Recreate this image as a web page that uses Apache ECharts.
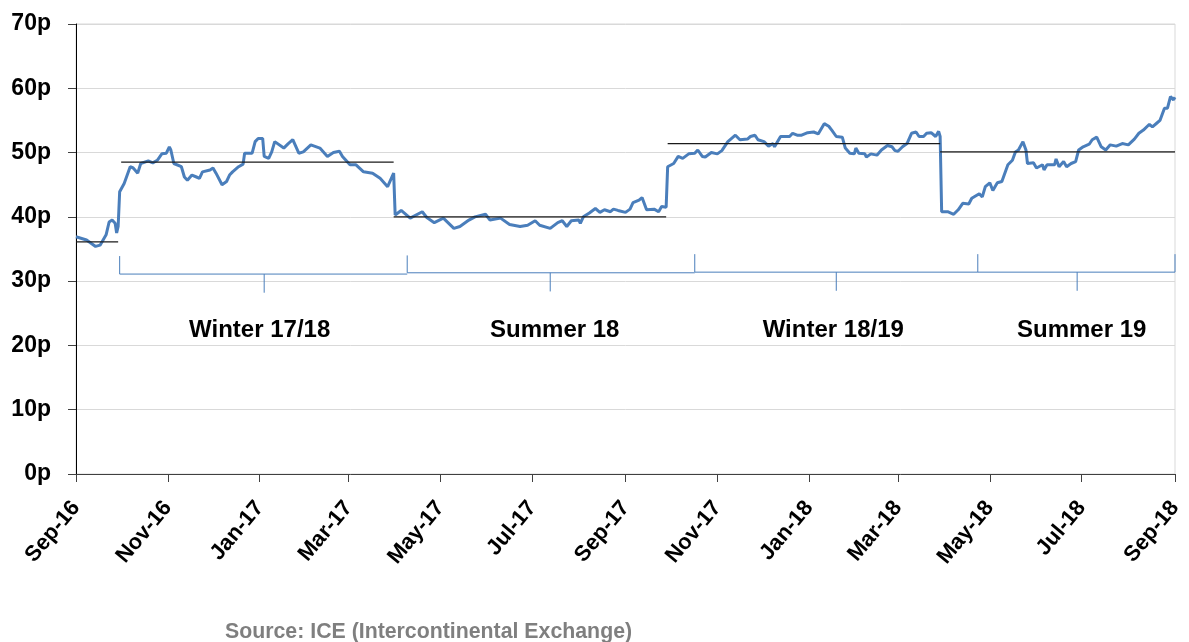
<!DOCTYPE html>
<html>
<head>
<meta charset="utf-8">
<script src="https://cdn.jsdelivr.net/npm/echarts@6/dist/echarts.min.js"></script>
<style>
  html, body { margin: 0; padding: 0; background: #fff; }
  #chart { width: 1189px; height: 642px; }
</style>
</head>
<body>
<div id="chart"></div>
<script>
// 远期季度合约价格（p/therm）
const priceDates = [
  '2016-09-01', '2016-09-08', '2016-09-14', '2016-09-17', '2016-09-21', '2016-09-23', '2016-09-25', '2016-09-27',
  '2016-09-28', '2016-09-29', '2016-09-30', '2016-10-03', '2016-10-07', '2016-10-09', '2016-10-12', '2016-10-14',
  '2016-10-19', '2016-10-22', '2016-10-25', '2016-10-28', '2016-10-31', '2016-11-02', '2016-11-03', '2016-11-05',
  '2016-11-10', '2016-11-12', '2016-11-14', '2016-11-17', '2016-11-20', '2016-11-22', '2016-11-24', '2016-11-29',
  '2016-12-01', '2016-12-03', '2016-12-07', '2016-12-10', '2016-12-12', '2016-12-14', '2016-12-18', '2016-12-21',
  '2016-12-22', '2016-12-27', '2016-12-29', '2016-12-31', '2017-01-03', '2017-01-04', '2017-01-07', '2017-01-09',
  '2017-01-11', '2017-01-17', '2017-01-20', '2017-01-23', '2017-01-27', '2017-01-30', '2017-02-04', '2017-02-10',
  '2017-02-15', '2017-02-19', '2017-02-23', '2017-02-25', '2017-03-02', '2017-03-06', '2017-03-11', '2017-03-17',
  '2017-03-22', '2017-03-27', '2017-03-31', '2017-04-01', '2017-04-05', '2017-04-11', '2017-04-19', '2017-04-22',
  '2017-04-27', '2017-05-03', '2017-05-10', '2017-05-14', '2017-05-20', '2017-05-24', '2017-05-31', '2017-06-03',
  '2017-06-10', '2017-06-16', '2017-06-23', '2017-06-28', '2017-07-03', '2017-07-06', '2017-07-13', '2017-07-18',
  '2017-07-21', '2017-07-24', '2017-07-27', '2017-08-01', '2017-08-02', '2017-08-04', '2017-08-08', '2017-08-12',
  '2017-08-15', '2017-08-18', '2017-08-22', '2017-08-24', '2017-08-27', '2017-09-01', '2017-09-04', '2017-09-06',
  '2017-09-10', '2017-09-12', '2017-09-15', '2017-09-20', '2017-09-23', '2017-09-25', '2017-09-28', '2017-09-29',
  '2017-10-03', '2017-10-06', '2017-10-09', '2017-10-13', '2017-10-17', '2017-10-19', '2017-10-22', '2017-10-24',
  '2017-10-28', '2017-11-01', '2017-11-04', '2017-11-08', '2017-11-13', '2017-11-16', '2017-11-21', '2017-11-23',
  '2017-11-26', '2017-11-28', '2017-12-02', '2017-12-05', '2017-12-08', '2017-12-09', '2017-12-13', '2017-12-16',
  '2017-12-19', '2017-12-21', '2017-12-24', '2017-12-27', '2017-12-31', '2018-01-04', '2018-01-07', '2018-01-08',
  '2018-01-11', '2018-01-14', '2018-01-16', '2018-01-19', '2018-01-23', '2018-01-25', '2018-01-28', '2018-01-31',
  '2018-02-01', '2018-02-03', '2018-02-07', '2018-02-08', '2018-02-11', '2018-02-15', '2018-02-18', '2018-02-22',
  '2018-02-25', '2018-02-27', '2018-03-01', '2018-03-04', '2018-03-07', '2018-03-10', '2018-03-13', '2018-03-15',
  '2018-03-18', '2018-03-20', '2018-03-23', '2018-03-26', '2018-03-28', '2018-03-29', '2018-03-30', '2018-04-03',
  '2018-04-07', '2018-04-10', '2018-04-13', '2018-04-17', '2018-04-19', '2018-04-24', '2018-04-26', '2018-04-28',
  '2018-05-01', '2018-05-03', '2018-05-06', '2018-05-09', '2018-05-13', '2018-05-16', '2018-05-18', '2018-05-20',
  '2018-05-23', '2018-05-25', '2018-05-26', '2018-05-30', '2018-06-01', '2018-06-05', '2018-06-06', '2018-06-08',
  '2018-06-13', '2018-06-14', '2018-06-16', '2018-06-19', '2018-06-21', '2018-06-24', '2018-06-27', '2018-06-29',
  '2018-07-02', '2018-07-06', '2018-07-08', '2018-07-11', '2018-07-14', '2018-07-17', '2018-07-20', '2018-07-24',
  '2018-07-28', '2018-08-01', '2018-08-05', '2018-08-08', '2018-08-11', '2018-08-15', '2018-08-17', '2018-08-20',
  '2018-08-22', '2018-08-25', '2018-08-27', '2018-08-29', '2018-08-31', '2018-09-01'
]
const prices = [
  36.9, 36.4, 35.4, 35.6, 37.2, 39.2, 39.5, 39.0,
  37.5, 38.5, 43.9, 45.2, 47.8, 47.6, 46.8, 48.3,
  48.7, 48.4, 48.8, 49.8, 49.9, 50.9, 50.4, 48.3,
  47.8, 46.2, 45.7, 46.5, 46.2, 46.0, 47.0, 47.3,
  47.6, 46.8, 45.0, 45.5, 46.5, 47.0, 47.8, 48.2,
  49.9, 49.9, 51.7, 52.2, 52.2, 49.4, 49.1, 50.1,
  51.7, 50.7, 51.4, 52.0, 49.9, 50.1, 51.2, 50.7,
  49.4, 50.0, 50.2, 49.4, 48.1, 48.1, 47.0, 46.8,
  46.0, 44.7, 46.8, 40.3, 41.0, 39.8, 40.8, 39.9,
  39.1, 39.8, 38.2, 38.5, 39.5, 40.0, 40.4, 39.5,
  39.8, 38.8, 38.5, 38.7, 39.4, 38.7, 38.2, 39.1,
  39.4, 38.5, 39.4, 39.5, 39.0, 40.0, 40.6, 41.3,
  40.7, 41.1, 40.8, 41.2, 41.0, 40.7, 41.2, 42.2,
  42.6, 43.0, 41.1, 41.2, 40.8, 41.6, 41.5, 47.8,
  48.3, 49.4, 49.1, 49.8, 49.9, 50.4, 49.4, 49.3,
  50.0, 49.8, 50.3, 51.7, 52.7, 52.0, 52.1, 52.5,
  52.7, 52.0, 51.7, 51.0, 51.4, 50.9, 52.5, 52.5,
  52.5, 53.0, 52.7, 52.7, 53.1, 53.2, 52.9, 53.0,
  54.5, 54.1, 53.5, 52.5, 52.4, 50.7, 49.9, 49.8,
  50.7, 49.9, 49.8, 49.3, 49.8, 49.6, 50.4, 51.1,
  50.9, 50.3, 50.2, 50.9, 51.4, 53.0, 53.2, 52.5,
  52.5, 53.0, 53.1, 52.5, 53.3, 52.5, 40.8, 40.8,
  40.4, 41.1, 42.1, 42.0, 42.9, 43.6, 43.1, 44.7,
  45.3, 44.1, 45.3, 45.5, 48.1, 48.8, 50.1, 50.4,
  51.7, 50.4, 48.3, 48.4, 47.6, 48.1, 47.3, 48.1,
  48.1, 49.0, 47.8, 48.6, 47.8, 48.3, 48.6, 50.4,
  50.9, 51.3, 52.0, 52.4, 50.9, 50.4, 51.2, 51.0,
  51.4, 51.2, 52.1, 53.0, 53.5, 54.4, 54.0, 54.6,
  55.0, 56.9, 56.9, 58.7, 58.2, 58.6
]

// 季度均价（黑色横线）
const avgStart = ['2016-09-01', '2016-10-01', '2017-03-31', '2017-09-29', '2018-03-29']
const avgEnd = ['2016-09-29', '2017-03-31', '2017-09-28', '2018-03-29', '2018-09-01']
const avgValue = [36.1, 48.5, 40.0, 51.4, 50.1]

// 季度括号
const seasonNames = ['Winter 17/18', 'Summer 18', 'Winter 18/19', 'Summer 19']
const bracketEdges = ['2016-09-30', '2017-04-09', '2017-10-17', '2018-04-23', '2018-09-01']
const bracketMids = ['2017-01-04', '2017-07-13', '2018-01-19', '2018-06-28']
const bracketTop = [33.9, 34.0, 34.2, 34.2]
const bracketBase = [31.1, 31.3, 31.4, 31.4]
const bracketTickBottom = [28.2, 28.4, 28.5, 28.5]
const seasonLabelDates = ['2017-01-01', '2017-07-16', '2018-01-17', '2018-07-01']
const seasonLabelValue = 22.4

// 坐标轴刻度
const tickDates = [
  '2016-09-01', '2016-11-01', '2017-01-01', '2017-03-01', '2017-05-01', '2017-07-01', '2017-09-01',
  '2017-11-01', '2018-01-01', '2018-03-01', '2018-05-01', '2018-07-01', '2018-09-01'
]
const tickLabels = [
  'Sep-16', 'Nov-16', 'Jan-17', 'Mar-17', 'May-17', 'Jul-17', 'Sep-17',
  'Nov-17', 'Jan-18', 'Mar-18', 'May-18', 'Jul-18', 'Sep-18'
]

const chart = echarts.init(document.getElementById('chart'))
const FONT = 'Liberation Sans, Arial, sans-serif'
const toTime = (d) => echarts.number.parseDate(d).getTime()
const tickTimes = tickDates.map(toTime)
const blue = '#4a7ebb'

const series = []
series.push({
  name: 'Price',
  type: 'line',
  data: priceDates.map((d, i) => [toTime(d), prices[i]]),
  showSymbol: false,
  symbol: 'none',
  lineStyle: { color: blue, width: 3 },
  z: 5
})
avgValue.forEach((v, i) => {
  series.push({
    type: 'line',
    data: [[toTime(avgStart[i]), v], [toTime(avgEnd[i]), v]],
    symbol: 'none',
    lineStyle: { color: '#1a1a1a', width: 1.2 },
    z: 6,
    silent: true
  })
})
seasonNames.forEach((name, i) => {
  const a = toTime(bracketEdges[i])
  const b = toTime(bracketEdges[i + 1])
  const m = toTime(bracketMids[i])
  // 左竖线 + 底线
  series.push({
    type: 'line',
    data: [[a, bracketTop[i]], [a, bracketBase[i]], [b, bracketBase[i]]],
    symbol: 'none',
    lineStyle: { color: blue, width: 1 },
    clip: false,
    silent: true
  })
  // 中间刻度
  series.push({
    type: 'line',
    data: [[m, bracketBase[i]], [m, bracketTickBottom[i]]],
    symbol: 'none',
    lineStyle: { color: blue, width: 1 },
    silent: true
  })
})
// 最后一个括号的右竖线
const last = seasonNames.length - 1
series.push({
  type: 'line',
  data: [[toTime(bracketEdges[last + 1]), bracketBase[last]], [toTime(bracketEdges[last + 1]), bracketTop[last]]],
  symbol: 'none',
  lineStyle: { color: blue, width: 1 },
  clip: false,
  silent: true
})
series.push({
  type: 'scatter',
  data: seasonNames.map((n, i) => ({ name: n, value: [toTime(seasonLabelDates[i]), seasonLabelValue] })),
  symbolSize: 0,
  itemStyle: { color: '#000', opacity: 1 },
  label: {
    show: true,
    position: 'inside',
    formatter: '{b}',
    color: '#000',
    textBorderWidth: 0,
    fontFamily: FONT,
    fontWeight: 'bold',
    fontSize: 24
  },
  silent: true
})

const option = {
  animation: false,
  backgroundColor: '#fff',
  grid: {
    left: 76,
    right: 14,
    top: 24,
    bottom: 168,
    show: true,
    borderColor: '#d9d9d9',
    borderWidth: 1
  },
  xAxis: {
    type: 'value',
    min: tickTimes[0],
    max: tickTimes[tickTimes.length - 1],
    axisLine: { show: true, lineStyle: { color: '#404040', width: 1 } },
    axisTick: { show: true, length: 8, customValues: tickTimes, lineStyle: { color: '#404040' } },
    splitLine: { show: false },
    axisLabel: {
      customValues: tickTimes,
      rotate: 50,
      margin: 30,
      color: '#000',
      fontFamily: FONT,
      fontWeight: 'bold',
      fontSize: 22,
      formatter: (value) => {
        let best = 0
        tickTimes.forEach((t, i) => {
          if (Math.abs(t - value) < Math.abs(tickTimes[best] - value)) best = i
        })
        return tickLabels[best]
      }
    }
  },
  yAxis: {
    type: 'value',
    min: 0,
    max: 70,
    interval: 10,
    axisLine: { show: true, lineStyle: { color: '#000', width: 1 } },
    axisTick: { show: true, length: 8, lineStyle: { color: '#404040' } },
    splitLine: { show: true, lineStyle: { color: '#d9d9d9', width: 1 } },
    axisLabel: {
      formatter: '{value}p',
      margin: 25,
      color: '#000',
      fontFamily: FONT,
      fontWeight: 'bold',
      fontSize: 23
    }
  },
  graphic: [{
    type: 'text',
    left: 225,
    top: 622,
    style: {
      text: 'Source: ICE (Intercontinental Exchange)',
      fill: '#7f7f7f',
      font: 'bold 21.3px ' + FONT
    },
    silent: true
  }],
  series: series
}
chart.setOption(option)
</script>
</body>
</html>
